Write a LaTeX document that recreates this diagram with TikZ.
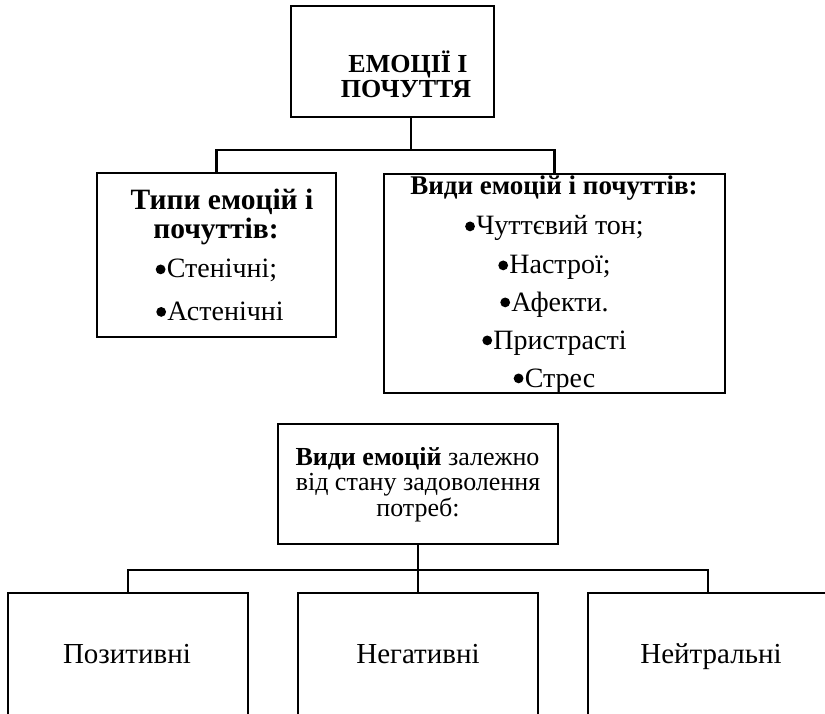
\documentclass[tikz,border=0pt]{standalone}
\usepackage{fontspec}
\setmainfont{Liberation Serif}
\begin{document}
\begin{tikzpicture}[x=1pt,y=-1pt]
\tikzset{
  frame/.style={draw, line width=2.4pt, inner sep=0pt, rectangle},
  link/.style={line width=2.2pt},
  txt/.style={anchor=base, inner sep=0pt},
  hd/.style={txt, font=\fontsize{27}{27}\selectfont\bfseries},
  it/.style={txt, font=\fontsize{28}{28}\selectfont},
  mtxt/.style={txt, font=\fontsize{26}{26}\selectfont},
  btxt/.style={txt, font=\fontsize{29}{29}\selectfont},
  % round list marker placed in front of an item text node
  bullet/.style={insert path={++(5,-8.6) circle[radius=4.9]}},
}
\newcommand{\gap}{\hspace*{11pt}}
\useasboundingbox (0,0) rectangle (825,714);

% boxes
\node[frame, minimum width=203, minimum height=111] (top)   at (392.5,61.5) {};
\node[frame, minimum width=239, minimum height=164] (left)  at (216.5,255) {};
\node[frame, minimum width=341, minimum height=219] (right) at (554.5,283.5) {};
\node[frame, minimum width=280, minimum height=120] (mid)   at (418,484) {};
\node[frame, minimum width=240, minimum height=124] (b1)    at (128,655) {};
\node[frame, minimum width=240, minimum height=124] (b2)    at (418,655) {};
\node[frame, minimum width=240, minimum height=124] (b3)    at (708,655) {};

% junction points
\coordinate (j1) at (411,150);
\coordinate (j2) at (418,570);

% connectors
\draw[link] (top.south -| j1) -- (j1);
\draw[link] (left.north) |- (j1) -| (right.north);
\draw[link] (mid.south) -- (j2);
\draw[link] (b1.north) |- (j2) -| (b3.north);
\draw[link] (j2) -- (b2.north);

% title
\node[txt, font=\fontsize{26}{26}\selectfont\bfseries] (ta) at (408,73) {ЕМОЦІЇ І};
\node[txt, font=\fontsize{26}{26}\selectfont\bfseries] (tb) at (406,98) {ПОЧУТТЯ};

% types
\node[hd, font=\fontsize{29.5}{29.5}\selectfont\bfseries] (la) at (222,210) {Типи емоцій і};
\node[hd, font=\fontsize{29.5}{29.5}\selectfont\bfseries] (lb) at (216,239) {почуттів:};
\node[it] (lc) at (216.5,278) {\gap Стенічні;};
\node[it] (ld) at (220,320.5) {\gap Астенічні};
\fill (lc.base west) [bullet];
\fill (ld.base west) [bullet];

% kinds
\node[hd] (ra) at (554,195) {Види емоцій і почуттів:};
\node[it] (rb) at (554.5,235) {\gap Чуттєвий тон;};
\node[it] (rc) at (554.5,274) {\gap Настрої;};
\node[it] (rd) at (554.5,311) {\gap Афекти.};
\node[it] (re) at (554.5,349) {\gap Пристрасті};
\node[it] (rf) at (554.5,387) {\gap Стрес};
\foreach \n in {rb,rc,rd,re,rf} \fill (\n.base west) [bullet];

% needs
\node[mtxt] (ma) at (417.5,465) {\textbf{Види емоцій} залежно};
\node[mtxt] (mb) at (418,490.5) {від стану задоволення};
\node[mtxt] (mc) at (418,516) {потреб:};

% outcomes
\node[btxt] (p1) at (127,663) {Позитивні};
\node[btxt] (p2) at (418,663) {Негативні};
\node[btxt] (p3) at (711,663) {Нейтральні};
\end{tikzpicture}
\end{document}
